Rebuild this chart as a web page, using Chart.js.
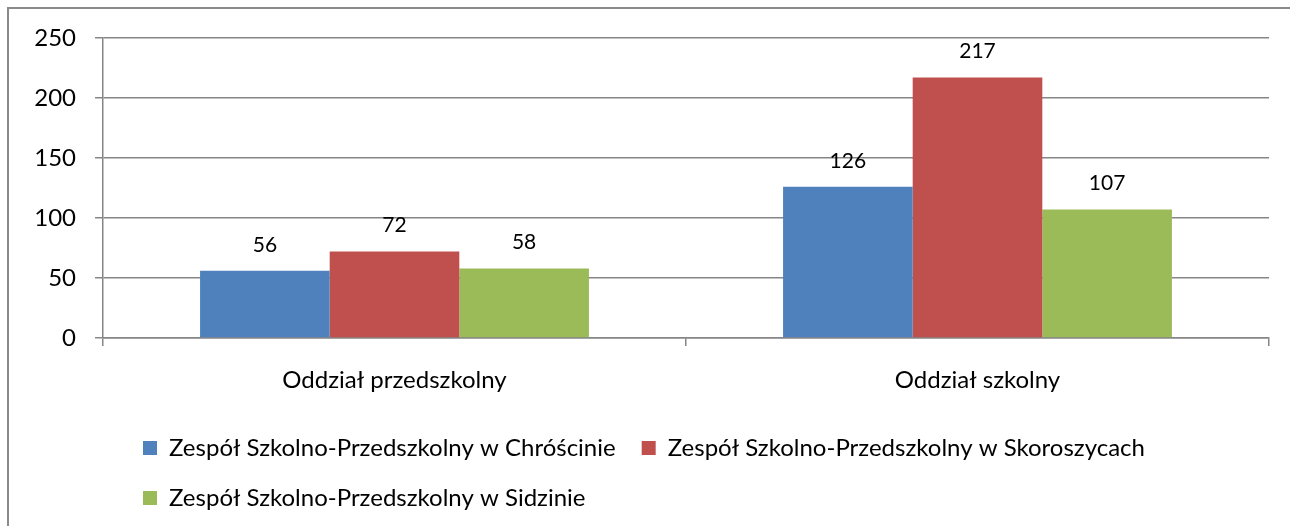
<!DOCTYPE html>
<html>
<head>
<meta charset="utf-8">
<script src="https://cdn.jsdelivr.net/npm/chart.js@4/dist/chart.umd.min.js"></script>
<style>
  html, body { margin: 0; padding: 0; background: #fff; overflow: hidden; }
  #frame { position: absolute; left: 7px; top: 7px; width: 1400px; height: 600px; border: 2px solid #8a8a8a; }
  #chart-area { position: absolute; left: 0; top: 0; }
</style>
</head>
<body>
<div id="frame"></div>
<canvas id="chart-area" width="1290" height="526"></canvas>
<script>
var categories = ['Oddział przedszkolny', 'Oddział szkolny'];
var seriesNames = [
  'Zespół Szkolno-Przedszkolny w Chróścinie',
  'Zespół Szkolno-Przedszkolny w Skoroszycach',
  'Zespół Szkolno-Przedszkolny w Sidzinie'
];
var chroscina = [56, 126];
var skoroszyce = [72, 217];
var sidzina = [58, 107];
var yTicks = [0, 50, 100, 150, 200, 250];

var colors = {
  blue: '#4f81bd',
  red: '#c0504d',
  green: '#9bbb59',
  grid: '#868686'
};
var fontFamily = 'Lato, "Open Sans", sans-serif';

// value labels above each bar
var valueLabels = {
  id: 'valueLabels',
  afterDatasetsDraw: function (chart) {
    var ctx = chart.ctx;
    ctx.save();
    ctx.font = '21px ' + fontFamily;
    ctx.fillStyle = '#000';
    ctx.textAlign = 'center';
    ctx.textBaseline = 'middle';
    chart.data.datasets.forEach(function (ds, i) {
      chart.getDatasetMeta(i).data.forEach(function (bar, j) {
        ctx.fillText(ds.data[j], bar.x, bar.y - 26);
      });
    });
    ctx.restore();
  }
};

// legend starts a bit further in, rows aligned left
var legendShift = {
  id: 'legendShift',
  beforeDraw: function (chart) {
    chart.legend.left = 117;
  }
};

var config = {
  type: 'bar',
  data: {
    labels: categories,
    datasets: [
      { label: seriesNames[0], data: chroscina, backgroundColor: colors.blue },
      { label: seriesNames[1], data: skoroszyce, backgroundColor: colors.red },
      { label: seriesNames[2], data: sidzina, backgroundColor: colors.green }
    ]
  },
  options: {
    responsive: false,
    animation: false,
    datasets: {
      bar: { categoryPercentage: 0.667, barPercentage: 1, borderWidth: 0 }
    },
    layout: { padding: { top: 38, right: 21, bottom: 6, left: 0 } },
    scales: {
      x: {
        grid: { offset: true, drawOnChartArea: false, color: colors.grid, tickLength: 8, lineWidth: 1.5 },
        border: { color: colors.grid, width: 1.5 },
        ticks: { color: '#000', padding: 20, font: { family: fontFamily, size: 24 } },
        afterFit: function (scale) { scale.height = 72; }
      },
      y: {
        min: 0,
        max: 250,
        afterBuildTicks: function (scale) {
          scale.ticks = yTicks.map(function (v) { return { value: v }; });
        },
        grid: { color: colors.grid, tickLength: 8, lineWidth: 1.5 },
        border: { color: colors.grid, width: 1.5 },
        ticks: { color: '#000', padding: 19, font: { family: fontFamily, size: 24 } },
        afterFit: function (scale) { scale.width = 103; }
      }
    },
    plugins: {
      legend: {
        position: 'bottom',
        align: 'start',
        fullSize: false,
        labels: {
          boxWidth: 14,
          boxHeight: 14,
          padding: 26,
          color: '#000',
          font: { family: fontFamily, size: 24 }
        }
      },
      tooltip: { enabled: false }
    }
  },
  plugins: [valueLabels, legendShift]
};

window.onload = function () {
  var ctx = document.getElementById('chart-area').getContext('2d');
  window.myBar = new Chart(ctx, config);
};
</script>
</body>
</html>
